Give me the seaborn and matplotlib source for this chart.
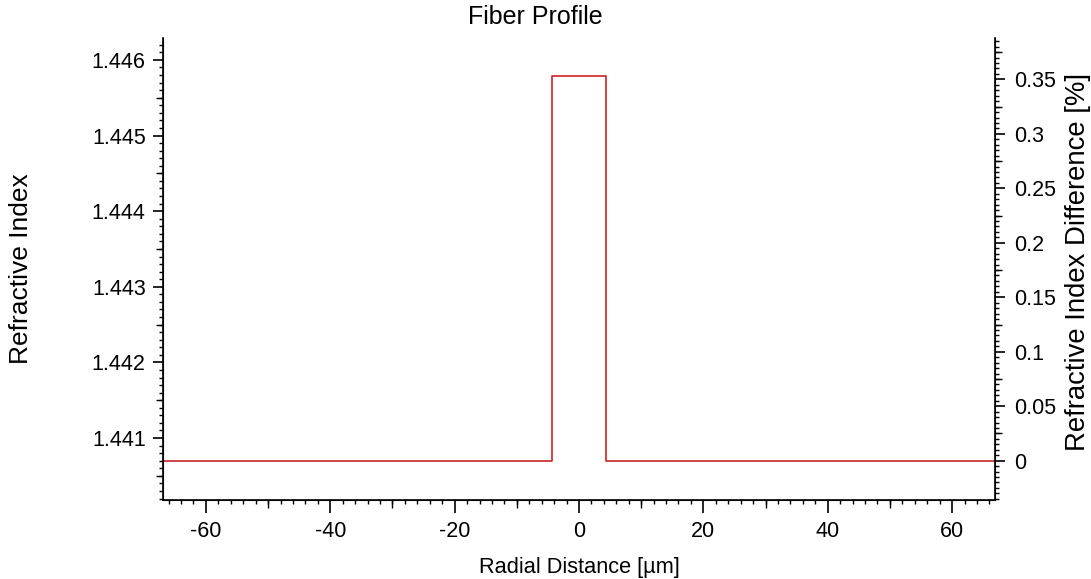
import numpy as np
import pandas as pd
import matplotlib
matplotlib.use("Agg")
import matplotlib.pyplot as plt
from matplotlib.ticker import MultipleLocator, NullFormatter
import seaborn as sns

# step-index profile
radial = [-67.0, -4.4, -4.4, 4.4, 4.4, 67.0]
index = [1.4407, 1.4407, 1.44579, 1.44579, 1.4407, 1.4407]
n_clad = 1.4407

x_ticks = [-60, -40, -20, 0, 20, 40, 60]
n_ticks = [1.441, 1.442, 1.443, 1.444, 1.445, 1.446]
d_ticks = [0, 0.05, 0.1, 0.15, 0.2, 0.25, 0.3, 0.35]

sns.set_style("ticks")
plt.rcParams['font.family'] = ['Liberation Sans', 'DejaVu Sans']
plt.rcParams['axes.unicode_minus'] = False

fig = plt.figure(figsize=(10.91, 5.79), dpi=100)
ax = fig.add_axes([0.1494, 0.1364, 0.7626, 0.798])

df = pd.DataFrame({"r": radial, "n": index})
sns.lineplot(data=df, x="r", y="n", sort=False, estimator=None,
             color="#cc2229", linewidth=1.2, ax=ax)

ax.set_xlim(-66.9, 66.9)
ax.set_ylim(1.44018, 1.44629)
ax.set_xticks(x_ticks)
ax.set_xticklabels([str(v) for v in x_ticks])
ax.set_yticks(n_ticks)
ax.set_yticklabels([f"{v:g}" for v in n_ticks])
ax.xaxis.set_minor_locator(MultipleLocator(2))
ax.yaxis.set_minor_locator(MultipleLocator(0.0001))
ax.tick_params(axis="x", which="major", length=9, width=1.2, labelsize=15.5, pad=6, colors="black")
ax.tick_params(axis="y", which="major", length=7.5, width=1.2, labelsize=15.5, pad=5, colors="black")
ax.tick_params(which="minor", length=3, width=1.0, colors="black")
ax.spines["top"].set_visible(False)
ax.spines["right"].set_visible(False)
for s in ["left", "bottom"]:
    ax.spines[s].set_linewidth(1.2)
    ax.spines[s].set_color("black")

ax.set_xlabel("Radial Distance [µm]", fontsize=15.7, labelpad=11, color="black")
ax.set_ylabel("Refractive Index", fontsize=19, labelpad=42, color="black")
ax.set_title("Fiber Profile", fontsize=18, pad=10, color="black", x=0.447)

# medium ticks
sx = ax.secondary_xaxis("bottom")
sx.set_xticks(np.arange(-50, 51, 20))
sx.xaxis.set_major_formatter(NullFormatter())
sx.tick_params(length=5.5, width=1.0, colors="black")
sy = ax.secondary_yaxis("left")
sy.set_yticks(np.arange(1.4405, 1.4461, 0.001))
sy.yaxis.set_major_formatter(NullFormatter())
sy.tick_params(length=5, width=1.0, colors="black")

# right axis: refractive index difference in percent
ax2 = ax.twinx()
lo, hi = ax.get_ylim()
ax2.set_ylim((lo - n_clad) / n_clad * 100, (hi - n_clad) / n_clad * 100)
ax2.set_yticks(d_ticks)
ax2.set_yticklabels([f"{v:g}" for v in d_ticks])
ax2.yaxis.set_minor_locator(MultipleLocator(0.005))
ax2.tick_params(axis="y", which="major", length=7.5, width=1.2, labelsize=15.5, pad=6, colors="black")
ax2.tick_params(axis="y", which="minor", length=3, width=1.0, colors="black")
ax2.spines["top"].set_visible(False)
ax2.spines["left"].set_visible(False)
ax2.spines["bottom"].set_visible(False)
ax2.spines["right"].set_linewidth(1.2)
ax2.spines["right"].set_color("black")
ax2.set_ylabel("Refractive Index Difference [%]", fontsize=19.8, color="black")
ax2.yaxis.set_label_coords(1.084, 0.516)
sy2 = ax2.secondary_yaxis("right")
sy2.set_yticks(np.arange(0.025, 0.38, 0.05))
sy2.yaxis.set_major_formatter(NullFormatter())
sy2.tick_params(length=5, width=1.0, colors="black")

plt.savefig("out.png", dpi=100)
